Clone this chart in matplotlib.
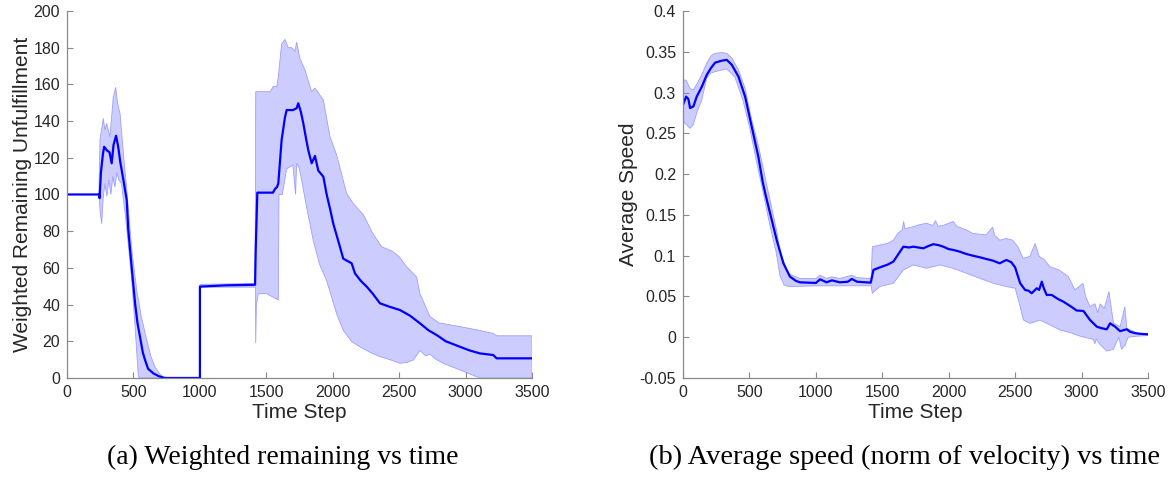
import numpy as np
import matplotlib
matplotlib.use("Agg")
import matplotlib.pyplot as plt

# ---- (a) weighted remaining: mean line + band edges ----
t_mean_a = [0, 240, 245, 255, 270, 279, 300, 320, 336, 350, 369, 385, 400, 424, 449, 461, 487, 512, 530, 549,
            570, 587, 610, 650, 690, 725, 740, 1000, 1000, 1200, 1415, 1420, 1432, 1500, 1550, 1565, 1580, 1590,
            1615, 1640, 1653, 1700, 1728, 1740, 1760, 1778, 1800, 1816, 1841, 1866, 1891, 1929, 1954, 1980, 2004,
            2040, 2079, 2142, 2167, 2210, 2255, 2300, 2355, 2420, 2506, 2580, 2656, 2720, 2782, 2850, 2957, 3030,
            3107, 3208, 3233, 3500]
mean_a = [100, 100, 98, 112, 122, 126, 124, 123, 117, 127, 132, 126, 118, 108, 97, 80.6, 60, 40.7, 30, 22.5,
          14, 9.8, 5, 2.5, 1, 0.2, 0, 0, 49.8, 50.5, 50.8, 70, 101, 101, 101, 103, 104, 106,
          129.7, 142, 146, 146, 147, 149.7, 145, 138.8, 130, 124, 117, 121, 113, 109.7, 100, 92, 84,
          75, 65, 62.5, 57, 53, 49.8, 46, 40.7, 39, 37, 34, 29.8, 26, 23.4, 20, 17, 15,
          13.4, 12.5, 10.7, 10.7]

t_hi_a = [0, 240, 248, 273, 285, 298, 323, 348, 366, 380, 399, 424, 449, 487, 524, 560, 600, 630, 662, 700,
          725, 740, 1000, 1000, 1415, 1420, 1435, 1528, 1553, 1578, 1590, 1615, 1640, 1665, 1690, 1715, 1728,
          1753, 1790, 1841, 1866, 1929, 1979, 2029, 2104, 2154, 2230, 2299, 2368, 2450, 2500, 2556, 2631, 2656,
          2732, 2800, 2957, 3100, 3208, 3233, 3500]
hi_a = [100, 100, 130, 141.5, 135, 138.8, 131.5, 153, 158.4, 150, 144, 122.5, 103, 70, 48, 33, 20.7, 12, 6, 2,
        0.5, 0, 0, 51, 51.5, 156, 156, 156, 159, 158.6, 164, 182, 184.5, 180, 180, 178, 183,
        174, 168, 156, 158, 151.5, 131.5, 121.5, 100.6, 95, 89, 79, 71.5, 69, 66, 60.6, 55, 46,
        33.4, 30, 28, 26, 24.3, 23, 23]

t_lo_a = [0, 240, 250, 261, 272, 285, 300, 315, 330, 345, 360, 375, 390, 410, 440, 465, 487, 510, 537, 550,
          1000, 1000, 1418, 1420, 1425, 1440, 1500, 1590, 1595, 1620, 1653, 1700, 1720, 1728, 1745, 1760, 1803,
          1853, 1900, 1954, 2029, 2079, 2140, 2204, 2280, 2355, 2430, 2506, 2560, 2606, 2656, 2700, 2731, 2780,
          2832, 2900, 2957, 3020, 3083, 3110, 3500]
lo_a = [100, 100, 90, 84, 98, 106, 99, 108, 100, 110, 104, 112, 108, 106, 88, 70, 53, 30, 0.7, 0,
        0, 49.5, 49.5, 19, 40, 46, 46, 42.5, 100, 100, 114, 116, 100, 117, 115, 110, 93,
        75, 62, 53, 35, 26, 20, 17, 14, 11.6, 10, 8, 8.5, 9.8, 15, 12, 13, 10,
        8, 6, 4.4, 2.5, 0.7, 0, 0]

# ---- (b) average speed ----
t_mean_b = [0, 23, 40, 53, 78, 103, 141, 178, 210, 241, 290, 329, 367, 417, 467, 517, 567, 600, 625, 655,
            705, 755, 805, 850, 880, 1000, 1031, 1080, 1120, 1180, 1240, 1270, 1310, 1413, 1433, 1483, 1540,
            1583, 1608, 1658, 1700, 1733, 1808, 1850, 1883, 1920, 1958, 2000, 2033, 2080, 2133, 2180, 2233,
            2280, 2333, 2383, 2433, 2470, 2499, 2537, 2574, 2600, 2624, 2662, 2680, 2700, 2715, 2737, 2775,
            2820, 2862, 2913, 2963, 3013, 3063, 3114, 3150, 3189, 3214, 3252, 3289, 3339, 3364, 3400, 3439, 3500]
mean_b = [0.285, 0.295, 0.292, 0.281, 0.283, 0.295, 0.307, 0.3215, 0.330, 0.3366, 0.339, 0.340, 0.334, 0.3195,
          0.295, 0.258, 0.221, 0.19, 0.172, 0.152, 0.119, 0.0907, 0.0742, 0.069, 0.0673, 0.0665, 0.071, 0.0673,
          0.0697, 0.0673, 0.068, 0.0714, 0.068, 0.0669, 0.0825, 0.0857, 0.089, 0.0927, 0.0988, 0.111, 0.110,
          0.111, 0.109, 0.112, 0.114, 0.113, 0.111, 0.108, 0.107, 0.105, 0.102, 0.100, 0.098, 0.096, 0.0938,
          0.0906, 0.0947, 0.092, 0.0857, 0.0662, 0.058, 0.057, 0.0539, 0.06, 0.058, 0.0681, 0.060, 0.0518,
          0.0518, 0.047, 0.0436, 0.0383, 0.0327, 0.0322, 0.0211, 0.0129, 0.011, 0.0097, 0.017, 0.0129, 0.0074,
          0.0097, 0.0067, 0.005, 0.0042, 0.0035]

t_hi_b = [0, 5, 23, 53, 78, 103, 141, 178, 210, 241, 290, 329, 367, 417, 467, 517, 567, 600, 625, 655, 705,
          730, 755, 780, 805, 880, 1000, 1031, 1080, 1120, 1180, 1270, 1310, 1415, 1425, 1480, 1540, 1583, 1620,
          1650, 1660, 1670, 1733, 1780, 1833, 1880, 1900, 1920, 1958, 2033, 2060, 2133, 2180, 2280, 2330, 2345,
          2383, 2433, 2480, 2520, 2560, 2610, 2650, 2680, 2720, 2760, 2830, 2900, 2950, 3010, 3030, 3063, 3100,
          3120, 3140, 3170, 3205, 3240, 3290, 3325, 3340, 3420, 3500]
hi_b = [0.27, 0.3154, 0.315, 0.305, 0.303, 0.31, 0.322, 0.336, 0.345, 0.348, 0.349, 0.348, 0.3424, 0.328,
        0.305, 0.2664, 0.235, 0.21, 0.19, 0.168, 0.13, 0.105, 0.094, 0.082, 0.077, 0.072, 0.072, 0.076, 0.072,
        0.074, 0.072, 0.076, 0.073, 0.072, 0.111, 0.113, 0.115, 0.119, 0.128, 0.1315, 0.142, 0.133, 0.1355,
        0.138, 0.1397, 0.137, 0.143, 0.136, 0.137, 0.142, 0.136, 0.1315, 0.1274, 0.1253, 0.135, 0.125, 0.119,
        0.121, 0.119, 0.111, 0.0967, 0.099, 0.115, 0.099, 0.095, 0.0865, 0.0824, 0.0742, 0.058, 0.066, 0.05,
        0.0374, 0.041, 0.03, 0.041, 0.035, 0.0558, 0.017, 0.0129, 0.0374, 0.011, 0.0048, 0.0043]

t_lo_b = [0, 5, 53, 78, 103, 141, 178, 210, 241, 329, 390, 450, 500, 560, 600, 650, 700, 730, 760, 800, 1000,
          1200, 1415, 1425, 1480, 1583, 1658, 1733, 1833, 1933, 2033, 2133, 2233, 2336, 2436, 2500, 2537, 2562,
          2612, 2687, 2762, 2837, 2912, 2988, 3088, 3100, 3110, 3138, 3188, 3238, 3280, 3300, 3327, 3350, 3420,
          3500]
lo_b = [0.27, 0.264, 0.256, 0.261, 0.275, 0.291, 0.3175, 0.324, 0.3256, 0.329, 0.319, 0.291, 0.258, 0.21,
        0.18, 0.14, 0.105, 0.075, 0.064, 0.062, 0.063, 0.063, 0.063, 0.054, 0.062, 0.0662, 0.0824, 0.0886,
        0.0845, 0.0886, 0.0845, 0.0784, 0.0722, 0.066, 0.062, 0.06, 0.0374, 0.0211, 0.017, 0.021, 0.015,
        0.0089, 0.0057, 0.0013, -0.0027, -0.008, -0.002, -0.0088, -0.017, -0.015, 0.0003, -0.015, -0.01, 0.0,
        0.0013, 0.002]

yt_a = list(range(0, 201, 20))
yt_b = [-0.05, 0, 0.05, 0.1, 0.15, 0.2, 0.25, 0.3, 0.35, 0.4]
xt = [0, 500, 1000, 1500, 2000, 2500, 3000, 3500]

plt.rcParams['font.family'] = ['Liberation Sans', 'DejaVu Sans']

fig = plt.figure(figsize=(11.72, 4.79), dpi=100)
ax1 = fig.add_axes([0.0572, 0.2109, 0.3968, 0.7662])
ax2 = fig.add_axes([0.5828, 0.2109, 0.3968, 0.7662])

band_face = (0.80, 0.80, 1.0)
band_edge = (0.62, 0.62, 1.0)


def draw(ax, tm, m, th, h, tl, l):
    xs = np.concatenate([th, tl[::-1]])
    ys = np.concatenate([h, l[::-1]])
    ax.fill(xs, ys, facecolor=band_face, edgecolor=band_edge, linewidth=0.6, zorder=1)
    ax.plot(tm, m, color=(0, 0, 1), linewidth=1.6, zorder=2)


draw(ax1, t_mean_a, mean_a, t_hi_a, hi_a, t_lo_a, lo_a)
draw(ax2, t_mean_b, mean_b, t_hi_b, hi_b, t_lo_b, lo_b)

ax1.set_ylim(0, 200)
ax1.set_yticks(yt_a)
ax2.set_ylim(-0.05, 0.4)
ax2.set_yticks(yt_b)
ax2.set_yticklabels(['%g' % v for v in yt_b])

for ax in (ax1, ax2):
    ax.set_xlim(0, 3500)
    ax.set_xticks(xt)
    for s in ('top', 'right'):
        ax.spines[s].set_visible(False)
    for s in ('left', 'bottom'):
        ax.spines[s].set_color('#8a8a8a')
        ax.spines[s].set_linewidth(0.9)
    ax.tick_params(direction='in', length=4, width=0.8, color='#8a8a8a',
                   labelcolor='#262626', labelsize=11.5, pad=5)
    ax.set_xlabel('Time Step', fontsize=15, color='#262626', labelpad=2)

ax1.set_ylabel('Weighted Remaining Unfulfillment', fontsize=15, color='#262626', labelpad=1)
ax2.set_ylabel('Average Speed', fontsize=15, color='#262626', labelpad=1)

cap_font = ['Liberation Serif', 'DejaVu Serif']
fig.text(0.2415, 0.031, '(a) Weighted remaining vs time', ha='center', va='baseline',
         fontsize=20, family=cap_font)
fig.text(0.7715, 0.031, '(b) Average speed (norm of velocity) vs time', ha='center', va='baseline',
         fontsize=20.5, family=cap_font)

fig.savefig('out.png', dpi=100)
